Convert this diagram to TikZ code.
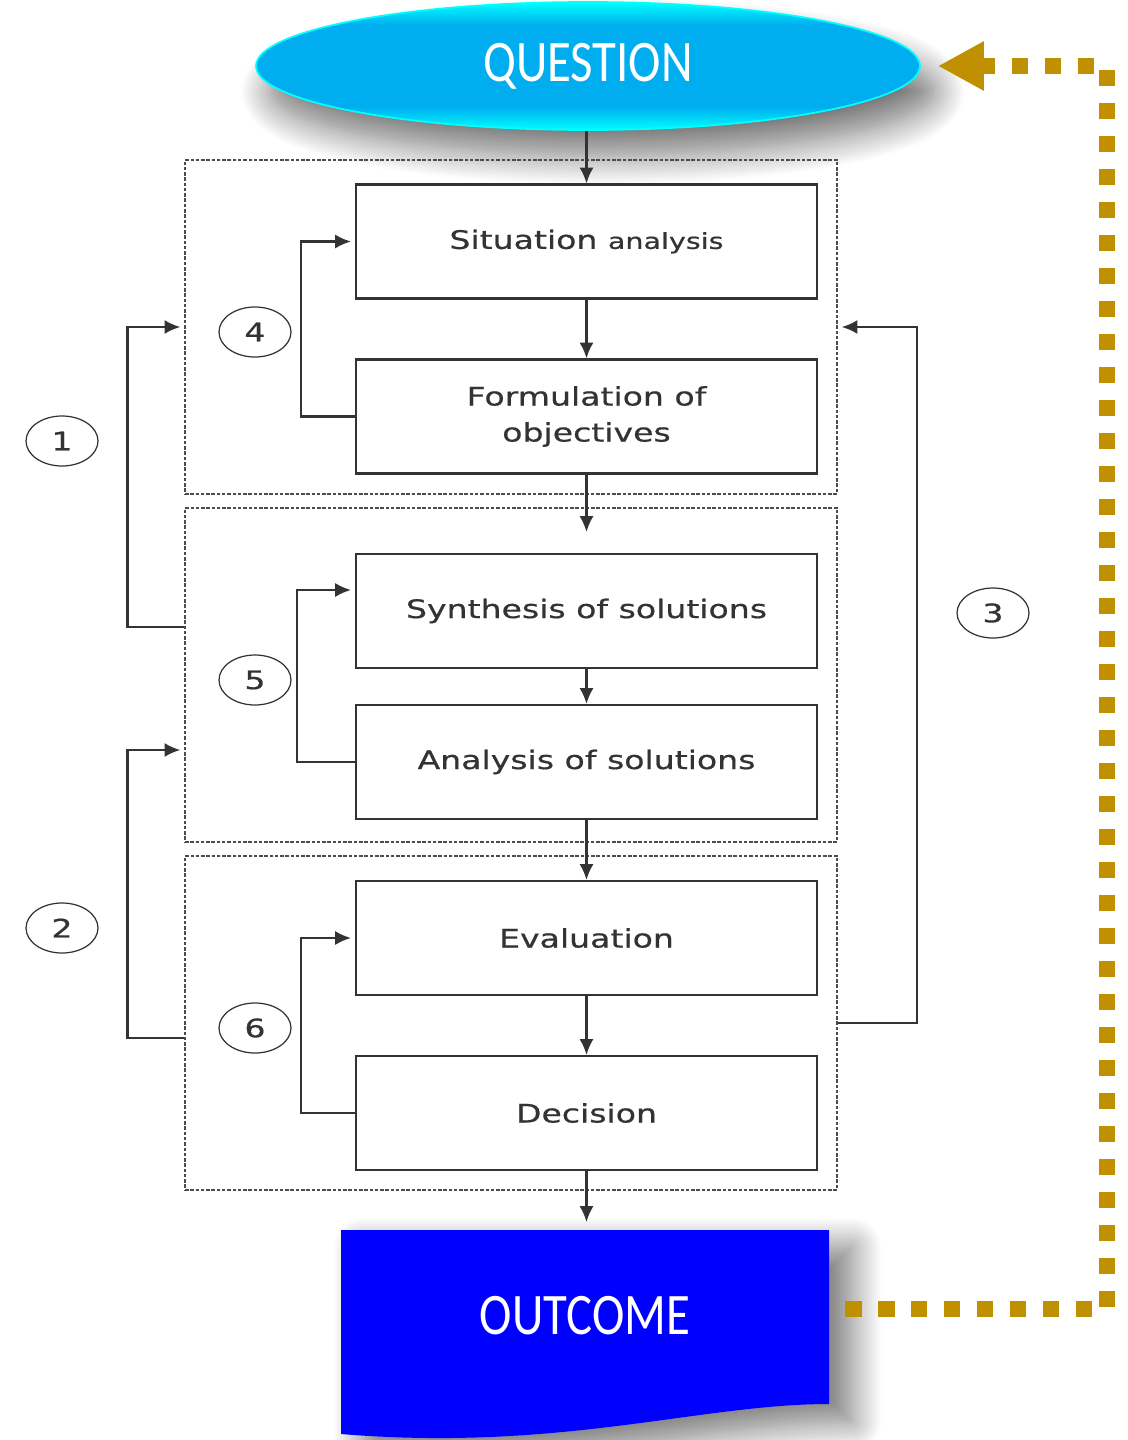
\documentclass[tikz,border=0pt]{standalone}
\usepackage{fontspec}
\setmainfont{DejaVu Sans}[FakeStretch=1.3, FakeBold=0.6]
\newfontfamily\capfont{Carlito}[FakeStretch=0.83]
\usepackage{xcolor}
\usetikzlibrary{arrows.meta}
\usetikzlibrary{shapes.geometric}
\usetikzlibrary{shadows.blur}
\usetikzlibrary{math}
\definecolor{qblue}{RGB}{0,174,239}
\definecolor{qcyan}{RGB}{0,255,255}
\definecolor{outblue}{RGB}{0,0,255}
\definecolor{loopgold}{RGB}{192,144,0}
\definecolor{ink}{RGB}{51,51,51}
\pgfdeclareverticalshading{qshade}{100bp}{color(0bp)=(qcyan); color(25bp)=(qcyan); color(34bp)=(qblue); color(66bp)=(qblue); color(75bp)=(qcyan); color(100bp)=(qcyan)}
\tikzset{
  box/.style={draw=ink, line width=1.2pt, minimum width=9.22cm, minimum height=2.28cm, inner sep=0pt, align=center, text=ink, font=\fontsize{14.5}{20.5}\selectfont},
  grp/.style={draw=black!70, line width=0.8pt, dash pattern=on 2pt off 1pt, minimum width=13.04cm, minimum height=6.68cm, inner sep=0pt},
  num/.style={ellipse, draw=ink, line width=0.7pt, minimum width=1.44cm, minimum height=1.0cm, inner sep=0pt, text=ink, font=\fontsize{14.5}{17}\selectfont},
  flow/.style={draw=ink, line width=1.3pt, -{Latex[length=9pt,width=8pt]}},
  fbk/.style={flow, shorten >=0.08cm},
  bigcap/.style={text=white, font=\capfont\fontsize{33.5}{38}\selectfont},
}

\begin{document}
\begin{tikzpicture}[x=0.02cm, y=-0.02cm]
\tikzmath{
\bx=586.5;
\gx=511;
}
\useasboundingbox (0,0) rectangle (1127,1440);

% outcome sheet
\path[fill=outblue, blur shadow={shadow xshift=0.45cm, shadow yshift=-0.35cm, shadow blur radius=0.6cm, shadow blur steps=20, shadow opacity=55}]
  (341,1230) -- (829,1230) -- (829,1404) .. controls (700,1404) and (560,1452) .. (341,1434) -- cycle;
\node[bigcap] (out) at (585,1316) {OUTCOME};
\coordinate (otop) at (\bx,1230);
\coordinate (otr) at (845,1309);
\coordinate (bend) at (1107,1309);

% question
\node[ellipse, shade, shading=qshade, draw=qcyan, line width=1pt, minimum width=13.28cm, minimum height=2.56cm, inner sep=0pt, bigcap,
  blur shadow={shadow xshift=0.3cm, shadow yshift=-0.5cm, shadow blur radius=0.6cm, shadow blur steps=20, shadow opacity=55}] (q) at (588,66) {QUESTION};

% groups
\node[grp] (g1) at (\gx,327) {};
\node[grp] (g2) at (\gx,675) {};
\node[grp] (g3) at (\gx,1023) {};

% steps
\node[box] (b1) at (\bx,241.5) {Situation {\fontsize{12.5}{15}\selectfont analysis}};
\node[box] (b2) at (\bx,416.5) {Formulation of\\objectives};
\node[box] (b3) at (\bx,611) {Synthesis of solutions};
\node[box] (b4) at (\bx,762) {Analysis of solutions};
\node[box] (b5) at (\bx,938) {Evaluation};
\node[box] (b6) at (\bx,1113) {Decision};
\coordinate (g2in) at (\bx,532);

% numbers
\node[num] (n1) at (62,441) {1};
\node[num] (n2) at (62,928) {2};
\node[num] (n3) at (993,613) {3};
\node[num] (n4) at (255,332) {4};
\node[num] (n5) at (255,680) {5};
\node[num] (n6) at (255,1028) {6};

% main flow
\draw[flow] (b1.north |- q.south) -- (b1.north);
\draw[flow] (b1) -- (b2);
\draw[flow] (b2.south) -- (g2in);
\draw[flow] (b3) -- (b4);
\draw[flow] (b4) -- (b5);
\draw[flow] (b5) -- (b6);
\draw[flow, shorten >=0.16cm] (b6.south) -- (otop);

% inner loops
\draw[fbk] (b2.west) -- ++(-54,0) |- (b1.west);
\draw[fbk] (b4.west) -- ++(-58,0) |- ([yshift=0.42cm]b3.west);
\draw[fbk] (b6.west) -- ++(-54,0) |- (b5.west);

% outer loops
\draw[fbk] ([yshift=0.96cm]g2.west) -- ++(-57,0) |- (g1.west);
\draw[fbk] ([yshift=-0.3cm]g3.west) -- ++(-57,0) |- ([yshift=-1.5cm]g2.west);
\draw[fbk] (g3.east) -- ++(79,0) |- (g1.east);

% back to the question
\draw[loopgold, line width=0.33cm, dash pattern=on 0.33cm off 0.33cm, -{Triangle[length=0.92cm,width=0.92cm]}, shorten >=0.34cm]
  (otr) -- (bend) |- (q.east);
\end{tikzpicture}
\end{document}
